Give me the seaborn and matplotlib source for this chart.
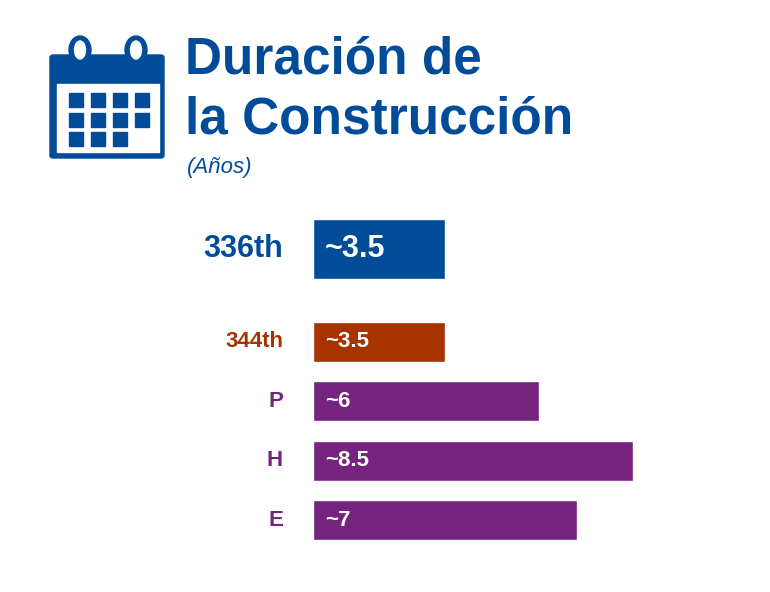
import matplotlib
matplotlib.use("Agg")
import matplotlib.pyplot as plt
import seaborn as sns
from matplotlib.patches import FancyBboxPatch, Rectangle, Ellipse

sns.set_theme(style="white")

categories = ["336th", "344th", "P", "H", "E"]
values = [3.5, 3.5, 6, 8.5, 7]
value_labels = ["~3.5", "~3.5", "~6", "~8.5", "~7"]
positions = [0, 1.56, 2.56, 3.56, 4.56]
heights = [1.0, 0.67, 0.67, 0.67, 0.67]
BLUE, ORANGE, PURPLE = "#004C99", "#A63300", "#74247F"
colors = [BLUE, ORANGE, PURPLE, PURPLE, PURPLE]
lab_sizes = [22, 16, 16, 16, 16]

W, H = 770, 592
fig = plt.figure(figsize=(W/100, H/100), dpi=100)
ax = fig.add_axes([0, 0, 1, 1])
ux, uy = 37.7, 59.5
ax.set_xlim(-313/ux, (W-313)/ux)
ax.set_ylim((H-249)/uy, -249/uy)
ax.axis("off")

ax.barh(positions, values, height=heights, color=colors, left=0)
for p, v, lab, c, cat, s in zip(positions, values, value_labels, colors, categories, lab_sizes):
    ax.text(12/ux, p, lab, color="white", fontsize=s, fontweight="bold",
            va="center", ha="left", family="Liberation Sans")
    ax.text(-30/ux, p, cat, color=c, fontsize=s, fontweight="bold",
            va="center", ha="right", family="Liberation Sans")

# Title
fig.text(185/W, 1-60/H, "Duración de", color=BLUE, fontsize=37, fontweight="bold",
         va="center", ha="left", family="Liberation Sans")
fig.text(185/W, 1-120/H, "la Construcción", color=BLUE, fontsize=37, fontweight="bold",
         va="center", ha="left", family="Liberation Sans")
fig.text(187/W, 1-168/H, "(Años)", color=BLUE, fontsize=16, style="italic",
         va="center", ha="left", family="Liberation Sans")

# Calendar icon (pixel coords, y from top)
def fx(x): return x/W
def fy(y): return 1-y/H
T = fig.transFigure
fig.patches.append(FancyBboxPatch((fx(50), fy(158)), (164-50)/W, (158-55)/H,
                   boxstyle="round,pad=0,rounding_size=0.004", color=BLUE, transform=T))
fig.patches.append(Rectangle((fx(57), fy(152)), (159-57)/W, (152-84)/H, color="white", transform=T))
cols = [69, 91, 113, 135]
rows = [93, 113, 132]
for ri, r in enumerate(rows):
    for ci, c in enumerate(cols):
        if ri == 2 and ci == 3:
            continue
        fig.patches.append(Rectangle((fx(c), fy(r+14)), 14/W, 14/H, color=BLUE, transform=T))
for cx in [80, 136]:
    fig.patches.append(Ellipse((fx(cx), fy(50)), 22/W, 28/H, color=BLUE, transform=T))
    fig.patches.append(Ellipse((fx(cx), fy(50)), 11/W, 18/H, color="white", transform=T))

fig.savefig("out.png", dpi=100, facecolor="white")
